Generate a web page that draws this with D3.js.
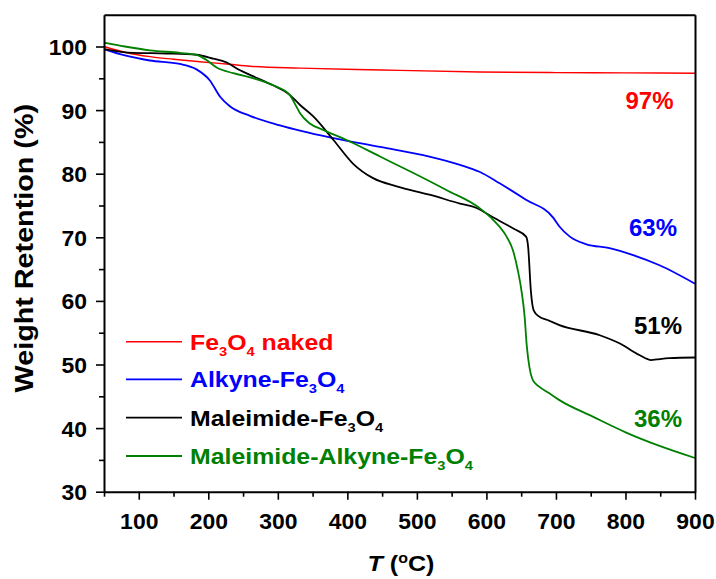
<!DOCTYPE html>
<html>
<head>
<meta charset="utf-8">
<script src="https://cdn.jsdelivr.net/npm/d3@7/dist/d3.min.js"></script>
<style>
  html, body { margin: 0; padding: 0; background: #ffffff; }
  svg { display: block; }
  text { font-family: "Liberation Sans", Arial, sans-serif; font-weight: bold; }
</style>
</head>
<body>
<svg id="chart" width="716" height="579"></svg>
<script>
// Thermogravimetric curves: temperature (ºC) vs weight retention (%)
const nakedT = [50, 80, 116, 150, 188, 230, 260, 332, 450, 590, 700, 800, 900];
const nakedW = [100.0, 99.1, 98.4, 98.0, 97.6, 97.2, 96.9, 96.6, 96.3, 96.0, 95.9, 95.85, 95.8];

const alkyneT = [50, 80, 116, 159, 183, 202, 217, 231, 260, 303, 375, 447, 518, 562, 590, 619, 657, 696, 705, 720, 744, 777, 811, 849, 900];
const alkyneW = [99.6, 98.6, 97.8, 97.25, 96.4, 94.7, 92.1, 90.6, 89.1, 87.6, 85.7, 84.2, 82.7, 81.4, 80.3, 78.5, 75.9, 73.1, 71.7, 70.1, 68.9, 68.3, 67.2, 65.6, 62.7];

const maleimideT = [50, 92, 140, 183, 207, 226, 245, 265, 293, 317, 332, 351, 380, 408, 437, 471, 518, 562, 586, 610, 640, 657, 660, 664, 668, 675, 690, 705, 763, 792, 820, 837, 845, 863, 900];
const maleimideW = [99.6, 99.0, 98.9, 98.7, 98.1, 97.5, 96.3, 95.3, 93.9, 92.4, 90.8, 89.0, 85.3, 81.6, 79.3, 78.0, 76.7, 75.3, 74.6, 73.1, 71.3, 70.1, 68.5, 61.5, 58.5, 57.6, 56.9, 56.2, 54.6, 53.3, 51.5, 50.7, 50.8, 51.0, 51.1];

const maleimideAlkyneT = [50, 80, 116, 159, 183, 197, 212, 236, 265, 293, 317, 327, 332, 346, 365, 399, 447, 495, 543, 590, 610, 629, 638, 645, 650, 655, 658, 662, 667, 675, 690, 705, 753, 801, 849, 900];
const maleimideAlkyneW = [100.6, 100.0, 99.4, 99.0, 98.7, 97.9, 96.7, 95.8, 95.0, 93.9, 92.4, 90.5, 89.5, 87.9, 86.9, 85.3, 82.7, 80.1, 77.4, 74.6, 72.7, 70.1, 68.0, 64.9, 61.9, 57.5, 53.0, 49.5, 47.5, 46.6, 45.5, 44.4, 41.8, 39.3, 37.2, 35.3];

const seriesNames = ["naked", "alkyne", "maleimide", "maleimideAlkyne"];
const seriesColors = ["#ff0000", "#0000ff", "#000000", "#008000"];
const seriesWidths = [1.4, 1.8, 1.8, 1.8];
const finalLabels = ["97%", "63%", "51%", "36%"];

const xMajorTicks = [100, 200, 300, 400, 500, 600, 700, 800, 900];
const xMinorTicks = [50, 150, 250, 350, 450, 550, 650, 750, 850];
const yMajorTicks = [30, 40, 50, 60, 70, 80, 90, 100];
const yMinorTicks = [35, 45, 55, 65, 75, 85, 95];

const svg = d3.select("#chart");
const plotLeft = 104, plotRight = 695, plotTop = 14.7, plotBottom = 491.7;

const x = d3.scaleLinear().domain([50, 900]).range([plotLeft, plotRight]);
const y = d3.scaleLinear().domain([30, 105]).range([plotBottom, plotTop]);

const series = [
  {T: nakedT, W: nakedW},
  {T: alkyneT, W: alkyneW},
  {T: maleimideT, W: maleimideW},
  {T: maleimideAlkyneT, W: maleimideAlkyneW}
].map((s, i) => ({
  name: seriesNames[i], color: seriesColors[i], width: seriesWidths[i],
  points: s.T.map((t, j) => [t, s.W[j]])
}));

const line = d3.line()
  .x(d => x(d[0]))
  .y(d => y(d[1]))
  .curve(d3.curveMonotoneX);

// curves
const plot = svg.append("g");
series.forEach(s => {
  plot.append("path")
    .datum(s.points)
    .attr("fill", "none")
    .attr("stroke", s.color)
    .attr("stroke-width", s.width)
    .attr("stroke-linejoin", "round")
    .attr("d", line);
});

const tickFont = 22.5;

// axes
const xAxis = svg.append("g").attr("transform", `translate(0,${plotBottom})`)
  .call(d3.axisBottom(x).tickValues(xMajorTicks).tickSize(8).tickSizeOuter(0).tickFormat(d3.format("d")));
xAxis.selectAll(".tick text")
  .attr("y", 0).attr("dy", 0)
  .attr("transform", "translate(0,37) scale(1.02,1)")
  .attr("font-size", tickFont)
  .attr("fill", "#000");
svg.append("g").attr("transform", `translate(0,${plotBottom})`)
  .call(d3.axisBottom(x).tickValues(xMinorTicks).tickSize(5).tickSizeOuter(0).tickFormat(""))
  .select(".domain").remove();

const yAxis = svg.append("g").attr("transform", `translate(${plotLeft},0)`)
  .call(d3.axisLeft(y).tickValues(yMajorTicks).tickSize(8).tickSizeOuter(0).tickFormat(d3.format("d")));
yAxis.selectAll(".tick text")
  .attr("x", 0).attr("dy", 0)
  .attr("transform", "translate(-17,8) scale(1.02,1)")
  .attr("font-size", tickFont)
  .attr("fill", "#000");
svg.append("g").attr("transform", `translate(${plotLeft},0)`)
  .call(d3.axisLeft(y).tickValues(yMinorTicks).tickSize(5).tickSizeOuter(0).tickFormat(""))
  .select(".domain").remove();

// frame on top and right
svg.append("g").attr("transform", `translate(0,${plotTop})`)
  .call(d3.axisTop(x).tickValues([]).tickSizeOuter(0));
svg.append("g").attr("transform", `translate(${plotRight},0)`)
  .call(d3.axisRight(y).tickValues([]).tickSizeOuter(0));

svg.selectAll(".domain").attr("stroke", "#000").attr("stroke-width", 2);
svg.selectAll(".tick line").attr("stroke", "#000").attr("stroke-width", 1.6);
svg.selectAll("g text").attr("font-family", null);

// axis titles
const xTitle = svg.append("text")
  .attr("transform", "translate(401,571) scale(1.14,1)")
  .attr("text-anchor", "middle")
  .attr("font-size", 22);
xTitle.append("tspan").attr("font-style", "italic").text("T");
xTitle.append("tspan").text(" (");
xTitle.append("tspan").attr("font-size", 14).attr("dy", -8).text("o");
xTitle.append("tspan").attr("dy", 8).text("C)");

svg.append("text")
  .attr("transform", `translate(33,${(plotTop + plotBottom) / 2 - 5}) rotate(-90) scale(1.15,1)`)
  .attr("text-anchor", "middle")
  .attr("font-size", 25)
  .text("Weight Retention (%)");

// legend
const legendRows = [341.7, 379.3, 417.7, 456];
const legendParts = [
  [["Fe", 0], ["3", 1], ["O", 0], ["4", 1], [" naked", 0]],
  [["Alkyne-Fe", 0], ["3", 1], ["O", 0], ["4", 1]],
  [["Maleimide-Fe", 0], ["3", 1], ["O", 0], ["4", 1]],
  [["Maleimide-Alkyne-Fe", 0], ["3", 1], ["O", 0], ["4", 1]]
];
series.forEach((s, i) => {
  const ly = legendRows[i];
  svg.append("line")
    .attr("x1", 126).attr("x2", 182)
    .attr("y1", ly).attr("y2", ly)
    .attr("stroke", s.color).attr("stroke-width", s.width);
  const t = svg.append("text")
    .attr("transform", `translate(190,${ly + 8}) scale(1.13,1)`)
    .attr("fill", s.color)
    .attr("font-size", 22);
  let sub = false;
  legendParts[i].forEach(([str, isSub]) => {
    const ts = t.append("tspan").text(str);
    if (isSub && !sub) { ts.attr("font-size", 13).attr("dy", 6); sub = true; }
    else if (isSub && sub) { ts.attr("font-size", 13); }
    else if (!isSub && sub) { ts.attr("dy", -6); sub = false; }
  });
});

// final residue labels
const labelPos = [[649.5, 109], [653, 236], [658, 334], [658, 426.5]];
series.forEach((s, i) => {
  svg.append("text")
    .attr("x", labelPos[i][0]).attr("y", labelPos[i][1])
    .attr("text-anchor", "middle")
    .attr("font-size", 24)
    .attr("fill", s.color)
    .text(finalLabels[i]);
});
</script>
</body>
</html>
